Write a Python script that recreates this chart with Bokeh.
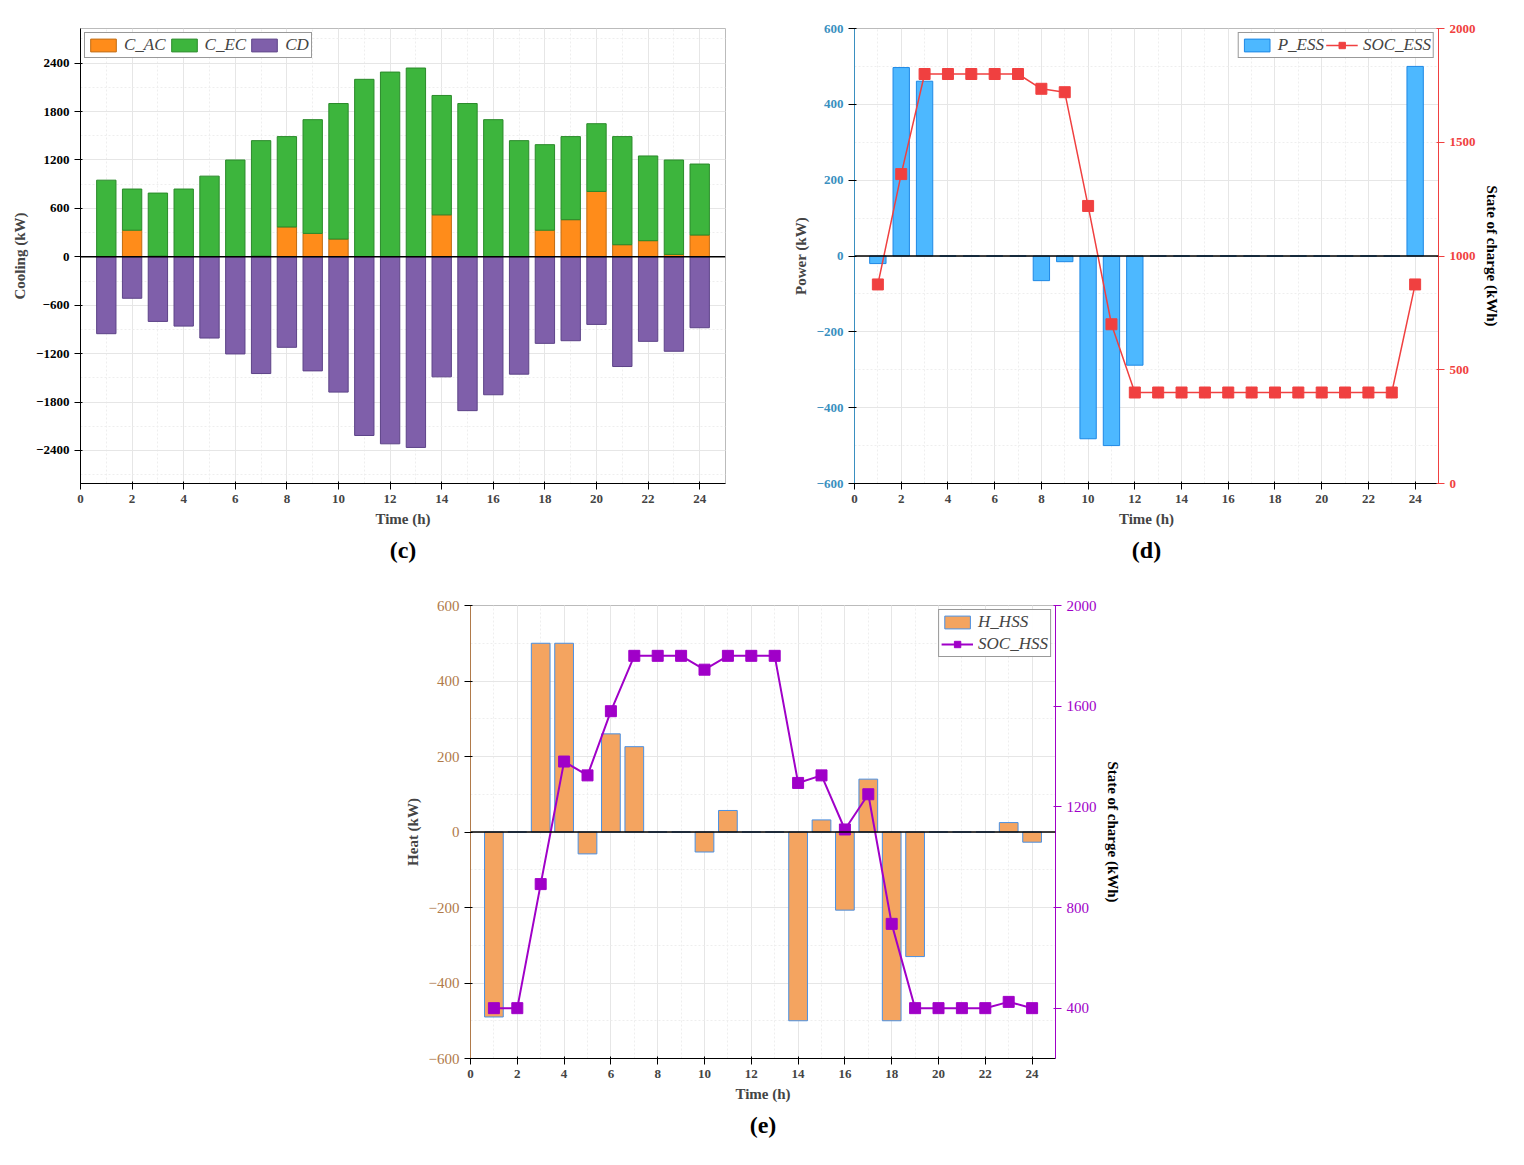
from bokeh.plotting import figure
from bokeh.models import (Range1d, LinearAxis, Legend, LegendItem, Span, Spacer, SingleIntervalTicker)
from bokeh.layouts import column, row
from bokeh.embed import file_html
from bokeh.resources import INLINE

hours = list(range(1, 25))
c_ac = [0, 330, 10, 0, 0, 0, 10, 370, 290, 220, 0, 0, 0, 520, 0, 0, 0, 330, 460, 810, 150, 200, 30, 270]
c_total = [950, 840, 790, 840, 1000, 1200, 1440, 1490, 1700, 1900, 2200, 2290, 2340, 2000, 1900, 1700, 1440, 1390, 1490, 1650, 1490, 1250, 1200, 1150]
c_ec = [t - a for t, a in zip(c_total, c_ac)]
cd = [-953, -514, -801, -859, -1007, -1204, -1447, -1122, -1414, -1677, -2215, -2318, -2363, -1488, -1907, -1710, -1455, -1073, -1040, -838, -1360, -1048, -1171, -879]

p_ess = [-20, 497, 461, 0, 0, 0, 0, -65, -15, -482, -500, -288, 0, 0, 0, 0, 0, 0, 0, 0, 0, 0, 0, 500]
soc_ess = [875, 1360, 1800, 1800, 1800, 1800, 1800, 1735, 1720, 1220, 700, 400, 400, 400, 400, 400, 400, 400, 400, 400, 400, 400, 400, 875]

h_hss = [-490, 0, 500, 500, -58, 260, 226, 0, 0, -53, 57, 0, 0, -500, 32, -207, 140, -500, -330, 0, 0, 0, 25, -27]
soc_hss = [400, 400, 893, 1380, 1325, 1580, 1800, 1800, 1800, 1745, 1800, 1800, 1800, 1295, 1325, 1110, 1250, 735, 400, 400, 400, 400, 425, 400]

FONT = "Liberation Serif"

def style(p, xlabel, ylabel, ycolor="black"):
    p.xaxis.axis_label = xlabel
    p.yaxis[0].axis_label = ylabel
    for ax in p.axis:
        ax.axis_label_text_font = FONT
        ax.axis_label_text_font_style = "bold"
        ax.axis_label_text_font_size = "15px"
        ax.major_label_text_font = FONT
        ax.major_label_text_font_size = "13px"
        ax.major_label_text_font_style = "bold"
        ax.minor_tick_line_color = None
    p.xaxis.ticker = SingleIntervalTicker(interval=2, num_minor_ticks=2)
    p.yaxis[0].major_label_text_color = ycolor
    p.yaxis[0].axis_line_color = ycolor
    p.grid.grid_line_color = "#e6e6e6"
    p.grid.minor_grid_line_color = "#eeeeee"
    p.grid.minor_grid_line_dash = "2 2"
    p.outline_line_color = "#bbbbbb"
    p.title.text_font = FONT
    p.title.text_font_size = "24px"
    p.title.text_font_style = "bold"
    p.title.text_color = "black"
    p.title.align = "center"
    p.add_layout(Span(location=0, dimension="width", line_color="black", line_width=1.5))

# Panel c
p1 = figure(width=730, height=567, output_backend="svg", toolbar_location=None,
            x_range=Range1d(0, 25), y_range=Range1d(-2810, 2830),
            min_border_left=80, min_border_right=5, min_border_top=28, min_border_bottom=60,
            title="(c)", title_location="below")
r_ac = p1.vbar(x=hours, bottom=0, top=c_ac, width=0.75, fill_color="#FF8C1A", line_color="#c06a10")
r_ec = p1.vbar(x=hours, bottom=c_ac, top=c_total, width=0.75, fill_color="#3DB53D", line_color="#2a8a2a")
r_cd = p1.vbar(x=hours, bottom=cd, top=0, width=0.75, fill_color="#7F5FAA", line_color="#5d4388")
style(p1, "Time (h)", "Cooling (kW)")
p1.yaxis.ticker = SingleIntervalTicker(interval=600, num_minor_ticks=2)
p1.yaxis.major_label_overrides = {-2400: "\u22122400", -1800: "\u22121800", -1200: "\u22121200", -600: "\u2212600"}
leg1 = Legend(items=[LegendItem(label="C_AC", renderers=[r_ac]), LegendItem(label="C_EC", renderers=[r_ec]),
                     LegendItem(label="CD", renderers=[r_cd])],
              orientation="horizontal", location="top_left")
p1.add_layout(leg1)

# Panel d
p2 = figure(width=734, height=567, output_backend="svg", toolbar_location=None,
            x_range=Range1d(0, 25), y_range=Range1d(-600, 600),
            min_border_left=82, min_border_right=68, min_border_top=10, min_border_bottom=60,
            title="(d)", title_location="below")
p2.extra_y_ranges = {"soc": Range1d(0, 2000)}
r_p = p2.vbar(x=hours, top=p_ess, width=0.7, fill_color="#4DB8FF", line_color="#1E88E5")
r_s = p2.line(x=hours, y=soc_ess, y_range_name="soc", line_color="#F04040", line_width=1.5)
r_sm = p2.scatter(x=hours, y=soc_ess, y_range_name="soc", marker="square", size=11, fill_color="#F04040", line_color="#F04040")
ax2 = LinearAxis(y_range_name="soc", ticker=SingleIntervalTicker(interval=500, num_minor_ticks=2))
p2.add_layout(ax2, "right")
style(p2, "Time (h)", "Power (kW)", ycolor="#3A8FC0")
ax2.axis_label = "State of charge (kWh)"
p2.yaxis[0].ticker = SingleIntervalTicker(interval=200, num_minor_ticks=2)
p2.yaxis[0].major_label_overrides = {-600: "\u2212600", -400: "\u2212400", -200: "\u2212200"}
ax2.major_label_text_color = "#F04040"
ax2.axis_line_color = "#F04040"
ax2.major_tick_line_color = "#F04040"
ax2.axis_label_text_color = "black"
leg2 = Legend(items=[LegendItem(label="P_ESS", renderers=[r_p]), LegendItem(label="SOC_ESS", renderers=[r_s, r_sm])],
              orientation="horizontal", location="top_right")
p2.add_layout(leg2)

# Panel e
p3 = figure(width=730, height=560, output_backend="svg", toolbar_location=None,
            x_range=Range1d(0, 25), y_range=Range1d(-600, 600),
            min_border_left=75, min_border_right=70, min_border_top=12, min_border_bottom=95,
            title="(e)", title_location="below")
p3.extra_y_ranges = {"soc": Range1d(200, 2000)}
r_h = p3.vbar(x=hours, top=h_hss, width=0.8, fill_color="#F4A460", line_color="#4A90E2")
r_hs = p3.line(x=hours, y=soc_hss, y_range_name="soc", line_color="#A000C8", line_width=2)
r_hm = p3.scatter(x=hours, y=soc_hss, y_range_name="soc", marker="square", size=11, fill_color="#A000C8", line_color="#A000C8")
ax3 = LinearAxis(y_range_name="soc", ticker=SingleIntervalTicker(interval=400, num_minor_ticks=2))
p3.add_layout(ax3, "right")
style(p3, "Time (h)", "Heat (kW)", ycolor="#B07A4A")
ax3.axis_label = "State of charge (kWh)"
p3.yaxis[0].ticker = SingleIntervalTicker(interval=200, num_minor_ticks=2)
p3.yaxis[0].major_label_overrides = {-600: "\u2212600", -400: "\u2212400", -200: "\u2212200"}
p3.yaxis[0].major_label_text_font_style = "normal"
p3.yaxis[0].major_label_text_font_size = "15px"
ax3.major_label_text_color = "#A000C8"
ax3.major_label_text_font_style = "normal"
ax3.major_label_text_font_size = "15px"
ax3.axis_line_color = "#A000C8"
ax3.major_tick_line_color = "#A000C8"
ax3.axis_label_text_color = "black"
leg3 = Legend(items=[LegendItem(label="H_HSS", renderers=[r_h]), LegendItem(label="SOC_HSS", renderers=[r_hs, r_hm])],
              location="top_right")
p3.add_layout(leg3)

for lg in (leg1, leg2, leg3):
    lg.label_text_font = FONT
    lg.label_text_font_style = "italic"
    lg.label_text_font_size = "17px"
    lg.border_line_color = "#333333"
    lg.border_line_width = 1.5
    lg.padding = 2
    lg.spacing = 2
    lg.margin = 4
    lg.glyph_width = 32
    lg.glyph_height = 16

layout = column(row(p1, Spacer(width=42), p2), Spacer(height=26), row(Spacer(width=395), p3))
open("out.html", "w").write(file_html(layout, INLINE))
